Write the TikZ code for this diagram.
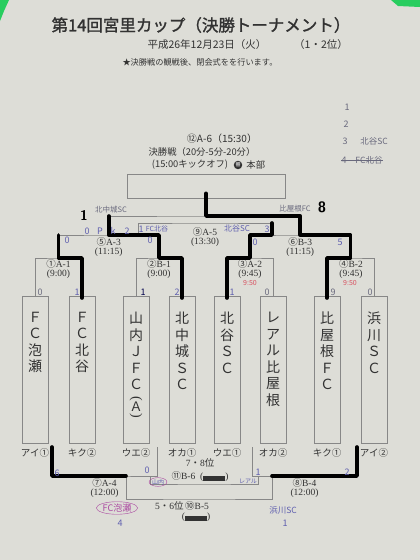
\documentclass[tikz,border=0pt]{standalone}
\usepackage{fontspec}
\setmainfont{Liberation Serif}
\newfontfamily\jp{Noto Sans CJK JP}
\newfontfamily\jpbold{Noto Sans CJK JP}[FakeBold=1.5]
\usetikzlibrary{calc, backgrounds, shapes.geometric}
\definecolor{papercol}{RGB}{221,221,215}
\definecolor{inkcol}{RGB}{50,50,50}
\definecolor{rulecol}{RGB}{135,135,135}
\definecolor{pencol}{RGB}{95,95,175}
\definecolor{graypen}{RGB}{105,105,125}
\definecolor{redpen}{RGB}{215,80,95}
\definecolor{pinkpen}{RGB}{170,70,160}
\definecolor{tapecol}{RGB}{40,205,95}

\begin{document}
\begin{tikzpicture}[x=1pt, y=-1pt,
    background rectangle/.style={fill=papercol},
    show background rectangle, inner frame sep=0pt,
    rule/.style={draw=rulecol, line width=0.7pt},
    marker/.style={draw=black, line width=3.6pt, line join=round, line cap=round},
    teambox/.style={rule, minimum width=26pt, minimum height=147pt, inner sep=0pt, anchor=north},
    teamname/.style={text=inkcol, font=\jp\fontsize{14}{16.5}\selectfont, align=center, inner sep=0pt, anchor=north},
    court/.style={text=inkcol, font=\jp\fontsize{9.5}{10}\selectfont, inner sep=0pt, below=4.5pt},
    match/.style={text=inkcol, font=\fontsize{9.5}{10}\selectfont, inner sep=0pt},
    pen/.style={text=pencol, font=\jp\fontsize{9}{9}\selectfont, inner sep=0pt},
    smallpen/.style={pen, font=\jp\fontsize{7}{7}\selectfont},
]

\path[use as bounding box] (0,0) rectangle (420,560);

% tape in the corners
\fill[tapecol] (0,0) -- (9,0) -- (4,11) -- (0,21) -- cycle;
\fill[tapecol] (391,0) -- (420,0) -- (420,7) -- (398,6) -- cycle;

% ════════════════════════════════════════════════════════
% 0. HEADER
% ════════════════════════════════════════════════════════
\node[text=inkcol, font=\jpbold\fontsize{16.5}{18}\selectfont] (title) at (201,25)
    {第14回宮里カップ（決勝トーナメント）};
\node[text=inkcol, font=\jp\fontsize{10.5}{11}\selectfont] (date) at (207,45)
    {平成26年12月23日（火）};
\node[text=inkcol, font=\jp\fontsize{10.5}{11}\selectfont] (rank) at (321,45) {（1・2位）};
\node[text=inkcol, font=\jp\fontsize{8.2}{9}\selectfont] (note) at (200,62)
    {★決勝戦の観戦後、閉会式をを行います。};

% handwritten ranking list
\node[pen, text=graypen] (r1) at (347,107) {1};
\node[pen, text=graypen] (r2) at (346,124) {2};
\node[pen, text=graypen] (r3) at (345,141) {3};
\node[pen, text=graypen, font=\jp\fontsize{8.5}{9}\selectfont] (r3n) at (374,141) {北谷SC};
\node[pen, text=graypen] (r4) at (344,160) {4};
\node[pen, text=graypen, font=\jp\fontsize{8.5}{9}\selectfont] (r4n) at (369,160) {FC北谷};
\draw[graypen, line width=0.8pt] (r4.west) -- (r4n.east);

% ════════════════════════════════════════════════════════
% 1. FINAL
% ════════════════════════════════════════════════════════
\node[text=inkcol, font=\jp\fontsize{10}{11}\selectfont] (f1) at (222,139) {⑫A-6（15:30）};
\node[text=inkcol, font=\jp\fontsize{9.3}{10}\selectfont] (f2) at (202,152) {決勝戦（20分-5分-20分）};
\node[text=inkcol, font=\jp\fontsize{9.3}{10}\selectfont] (f3) at (190,165) {(15:00キックオフ)};
\node[circle, fill=inkcol, text=white, inner sep=0.6pt, font=\jp\fontsize{5}{5}\selectfont] (hq) at (238,165) {審};
\node[text=inkcol, font=\jp\fontsize{9.3}{10}\selectfont, right=0.5pt] (f4) at (hq.east) {本部};
\node[rule, minimum width=158pt, minimum height=24pt, inner sep=0pt] (final) at (206,186) {};

% ════════════════════════════════════════════════════════
% 2. TEAMS
% ════════════════════════════════════════════════════════
\node[teambox] (t1) at (35,296) {};
\node[teambox] (t2) at (82,296) {};
\node[teambox] (t3) at (136,296) {};
\node[teambox] (t4) at (182,296) {};
\node[teambox] (t5) at (227,296) {};
\node[teambox] (t6) at (273,296) {};
\node[teambox] (t7) at (327,296) {};
\node[teambox] (t8) at (374,296) {};

\node[teamname] (n1) at (35,312) {Ｆ\\Ｃ\\泡\\瀬};
\node[teamname] (n2) at (82,312) {Ｆ\\Ｃ\\北\\谷};
\node[teamname] (n3) at (136,312) {山\\内\\Ｊ\\Ｆ\\Ｃ};
\node[text=inkcol, font=\fontsize{14}{14}\selectfont, rotate=-90, inner sep=0pt] (n3a) at (136,399) {(};
\node[text=inkcol, font=\jp\fontsize{13}{14}\selectfont, inner sep=0pt] (n3b) at (136,407) {Ａ};
\node[text=inkcol, font=\fontsize{14}{14}\selectfont, rotate=-90, inner sep=0pt] (n3c) at (136,416) {)};
\node[teamname] (n4) at (182,312) {北\\中\\城\\Ｓ\\Ｃ};
\node[teamname] (n5) at (227,312) {北\\谷\\Ｓ\\Ｃ};
\node[teamname] (n6) at (273,312) {レ\\ア\\ル\\比\\屋\\根};
\node[teamname] (n7) at (327,312) {比\\屋\\根\\Ｆ\\Ｃ};
\node[teamname] (n8) at (374,312) {浜\\川\\Ｓ\\Ｃ};

\node[court] (c1) at (t1.south) {アイ①};
\node[court] (c2) at (t2.south) {キク②};
\node[court] (c3) at (t3.south) {ウエ②};
\node[court] (c4) at (t4.south) {オカ①};
\node[court] (c5) at (t5.south) {ウエ①};
\node[court] (c6) at (t6.south) {オカ②};
\node[court] (c7) at (t7.south) {キク①};
\node[court] (c8) at (t8.south) {アイ②};

% ════════════════════════════════════════════════════════
% 3. BRACKET (printed)
% ════════════════════════════════════════════════════════
\coordinate (m1) at (58.5,258);
\coordinate (m2) at (159,258);
\coordinate (m3) at (250,258);
\coordinate (m4) at (350.5,258);
\coordinate (m5) at (108.75,235);
\coordinate (m6) at (300.25,235);
\coordinate (s)  at (204.5,216);
\coordinate (m9l) at (138,235);
\coordinate (m9r) at (272,235);
\coordinate (m9)  at (205,223);

\draw[rule] (t1.north) |- (m1) -| (t2.north);
\draw[rule] (t3.north) |- (m2) -| (t4.north);
\draw[rule] (t5.north) |- (m3) -| (t6.north);
\draw[rule] (t7.north) |- (m4) -| (t8.north);
\draw[rule] (m1) |- (m5) -| (m2);
\draw[rule] (m3) |- (m6) -| (m4);
\draw[rule] (m5) |- (s) -| (m6);
\draw[rule] (s -| final.south) -- (final.south);
\draw[rule] (m9l) |- (m9) -| (m9r);

% lower places
\coordinate (l7) at (52,447);
\coordinate (r7) at (157,447);
\coordinate (m7) at (104.5,476);
\coordinate (l8) at (252,447);
\coordinate (r8) at (357,447);
\coordinate (m8) at (304.5,476);
\coordinate (l11) at (150,476);
\coordinate (r11) at (258,476);
\coordinate (m11) at (204,484);
\coordinate (l10) at (126,476);
\coordinate (r10) at (272,476);
\coordinate (m10) at (199,499);

\draw[rule] (l7) |- (m7) -| (r7);
\draw[rule] (l8) |- (m8) -| (r8);
\draw[rule] (l11) |- (m11) -| (r11);
\draw[rule] (l10) |- (m10) -| (r10);

% match labels
\node[match] (a1) at (58.5,264) {{\jp ①}A-1};
\node[match] (a1t) at (58.5,274) {(9:00)};
\node[match] (b1) at (159,264) {{\jp ②}B-1};
\node[match] (b1t) at (159,274) {(9:00)};
\node[match] (a2) at (250,264) {{\jp ③}A-2};
\node[match] (a2t) at (250,274) {(9:45)};
\node[match] (b2) at (351,264) {{\jp ④}B-2};
\node[match] (b2t) at (351,274) {(9:45)};
\node[match] (a3) at (108.75,242) {{\jp ⑤}A-3};
\node[match] (a3t) at (108.75,252) {(11:15)};
\node[match] (b3) at (300.25,242) {{\jp ⑥}B-3};
\node[match] (b3t) at (300.25,252) {(11:15)};
\node[match] (a5) at (205,232) {{\jp ⑨}A-5};
\node[match] (a5t) at (205,242) {(13:30)};
\node[match] (a4) at (104.5,483) {{\jp ⑦}A-4};
\node[match] (a4t) at (104.5,493) {(12:00)};
\node[match] (b4) at (304.5,483) {{\jp ⑧}B-4};
\node[match] (b4t) at (304.5,493) {(12:00)};
\node[match] (p78) at (200,463) {7{\jp ・}8{\jp 位}};
\node[match] (b6) at (200,476) {{\jp ⑪}B-6\ \ (\rule[-1.5pt]{22pt}{5pt})};
\node[match] (p56) at (182,506) {5{\jp ・}6{\jp 位}\,{\jp ⑩}B-5};
\node[match] (b5t) at (196,517) {(\rule[-1.5pt]{22pt}{5pt})};

% ════════════════════════════════════════════════════════
% 4. RESULTS (marker and pen)
% ════════════════════════════════════════════════════════
\draw[marker] ([yshift=5pt]final.south) -- (s -| final.south) -| (m6) -| (m4) -| ([yshift=-2pt]t7.north);
\draw[marker] (s -| m5) -- (m5) -| (m2) -| ([yshift=-2pt]t4.north);
\draw[marker] (m5 -| m1) -- (m1) -| ([yshift=-2pt]t2.north);
\draw[marker] ([yshift=-2pt]t5.north) |- (m3) -- (m3 |- m6) -| (m9 -| m9r);
\draw[marker] (l7) |- (l10);
\draw[marker] (r8) |- (r10);

% final score
\node[text=black, font=\sffamily\bfseries\fontsize{14}{14}\selectfont] (fs1) at (84,215) {1};
\node[text=black, font=\sffamily\bfseries\fontsize{15}{15}\selectfont] (fs2) at (322,207) {8};
\node[pen, text=graypen, font=\jp\fontsize{7.5}{8}\selectfont] (fw1) at (111,210) {北中城SC};
\node[pen, text=graypen, font=\jp\fontsize{7.5}{8}\selectfont] (fw2) at (295,209) {比屋根FC};

% semifinal and third place
\node[pen] (s1) at (87,231) {0};
\node[pen] (s2) at (100,231) {P};
\node[pen] (s3) at (113,231) {k};
\node[pen] (s4) at (127,231) {2};
\node[pen] (s5) at (141,229) {1};
\node[smallpen] (s6) at (157,229) {FC北谷};
\node[pen, font=\jp\fontsize{8}{8}\selectfont] (s7) at (237,229) {北谷SC};
\node[pen] (s8) at (267,229) {3};
\node[pen] (s9) at (67,240) {0};
\node[pen] (s10) at (150,240) {0};
\node[pen] (s11) at (255,242) {0};
\node[pen] (s12) at (340,242) {5};

% first round
\node[pen, text=graypen] (q1) at (40,292) {0};
\node[pen] (q2) at (77,292) {1};
\node[pen, text=black!70!blue] (q3) at (143,292) {1};
\node[pen] (q4) at (177,292) {2};
\node[pen] (q5) at (232,292) {1};
\node[pen, text=graypen] (q6) at (267,292) {0};
\node[pen, text=graypen] (q7) at (333,292) {9};
\node[pen, text=graypen] (q8) at (370,292) {0};
\node[pen, text=redpen, font=\jp\fontsize{7}{7}\selectfont] (k3) at (250,283) {9:50};
\node[pen, text=redpen, font=\jp\fontsize{7}{7}\selectfont] (k4) at (350,283) {9:50};

% lower places
\node[pen] (w1) at (57,473) {6};
\node[pen] (w2) at (147,470) {0};
\node[pen] (w3) at (258,472) {1};
\node[pen] (w4) at (347,472) {2};
\node[smallpen, draw=pinkpen, ellipse, inner sep=0.3pt, font=\jp\fontsize{6}{6}\selectfont] (w5) at (158,482) {山内};
\node[smallpen, font=\jp\fontsize{6}{6}\selectfont] (w6) at (248,481) {レアル};
\node[pen, text=pinkpen, draw=pinkpen, ellipse, inner sep=0.3pt] (w7) at (117,508) {FC泡瀬};
\node[pen] (w8) at (120,523) {4};
\node[pen, font=\jp\fontsize{8.5}{9}\selectfont] (w9) at (283,510) {浜川SC};
\node[pen] (w10) at (285,523) {1};

\end{tikzpicture}
\end{document}
